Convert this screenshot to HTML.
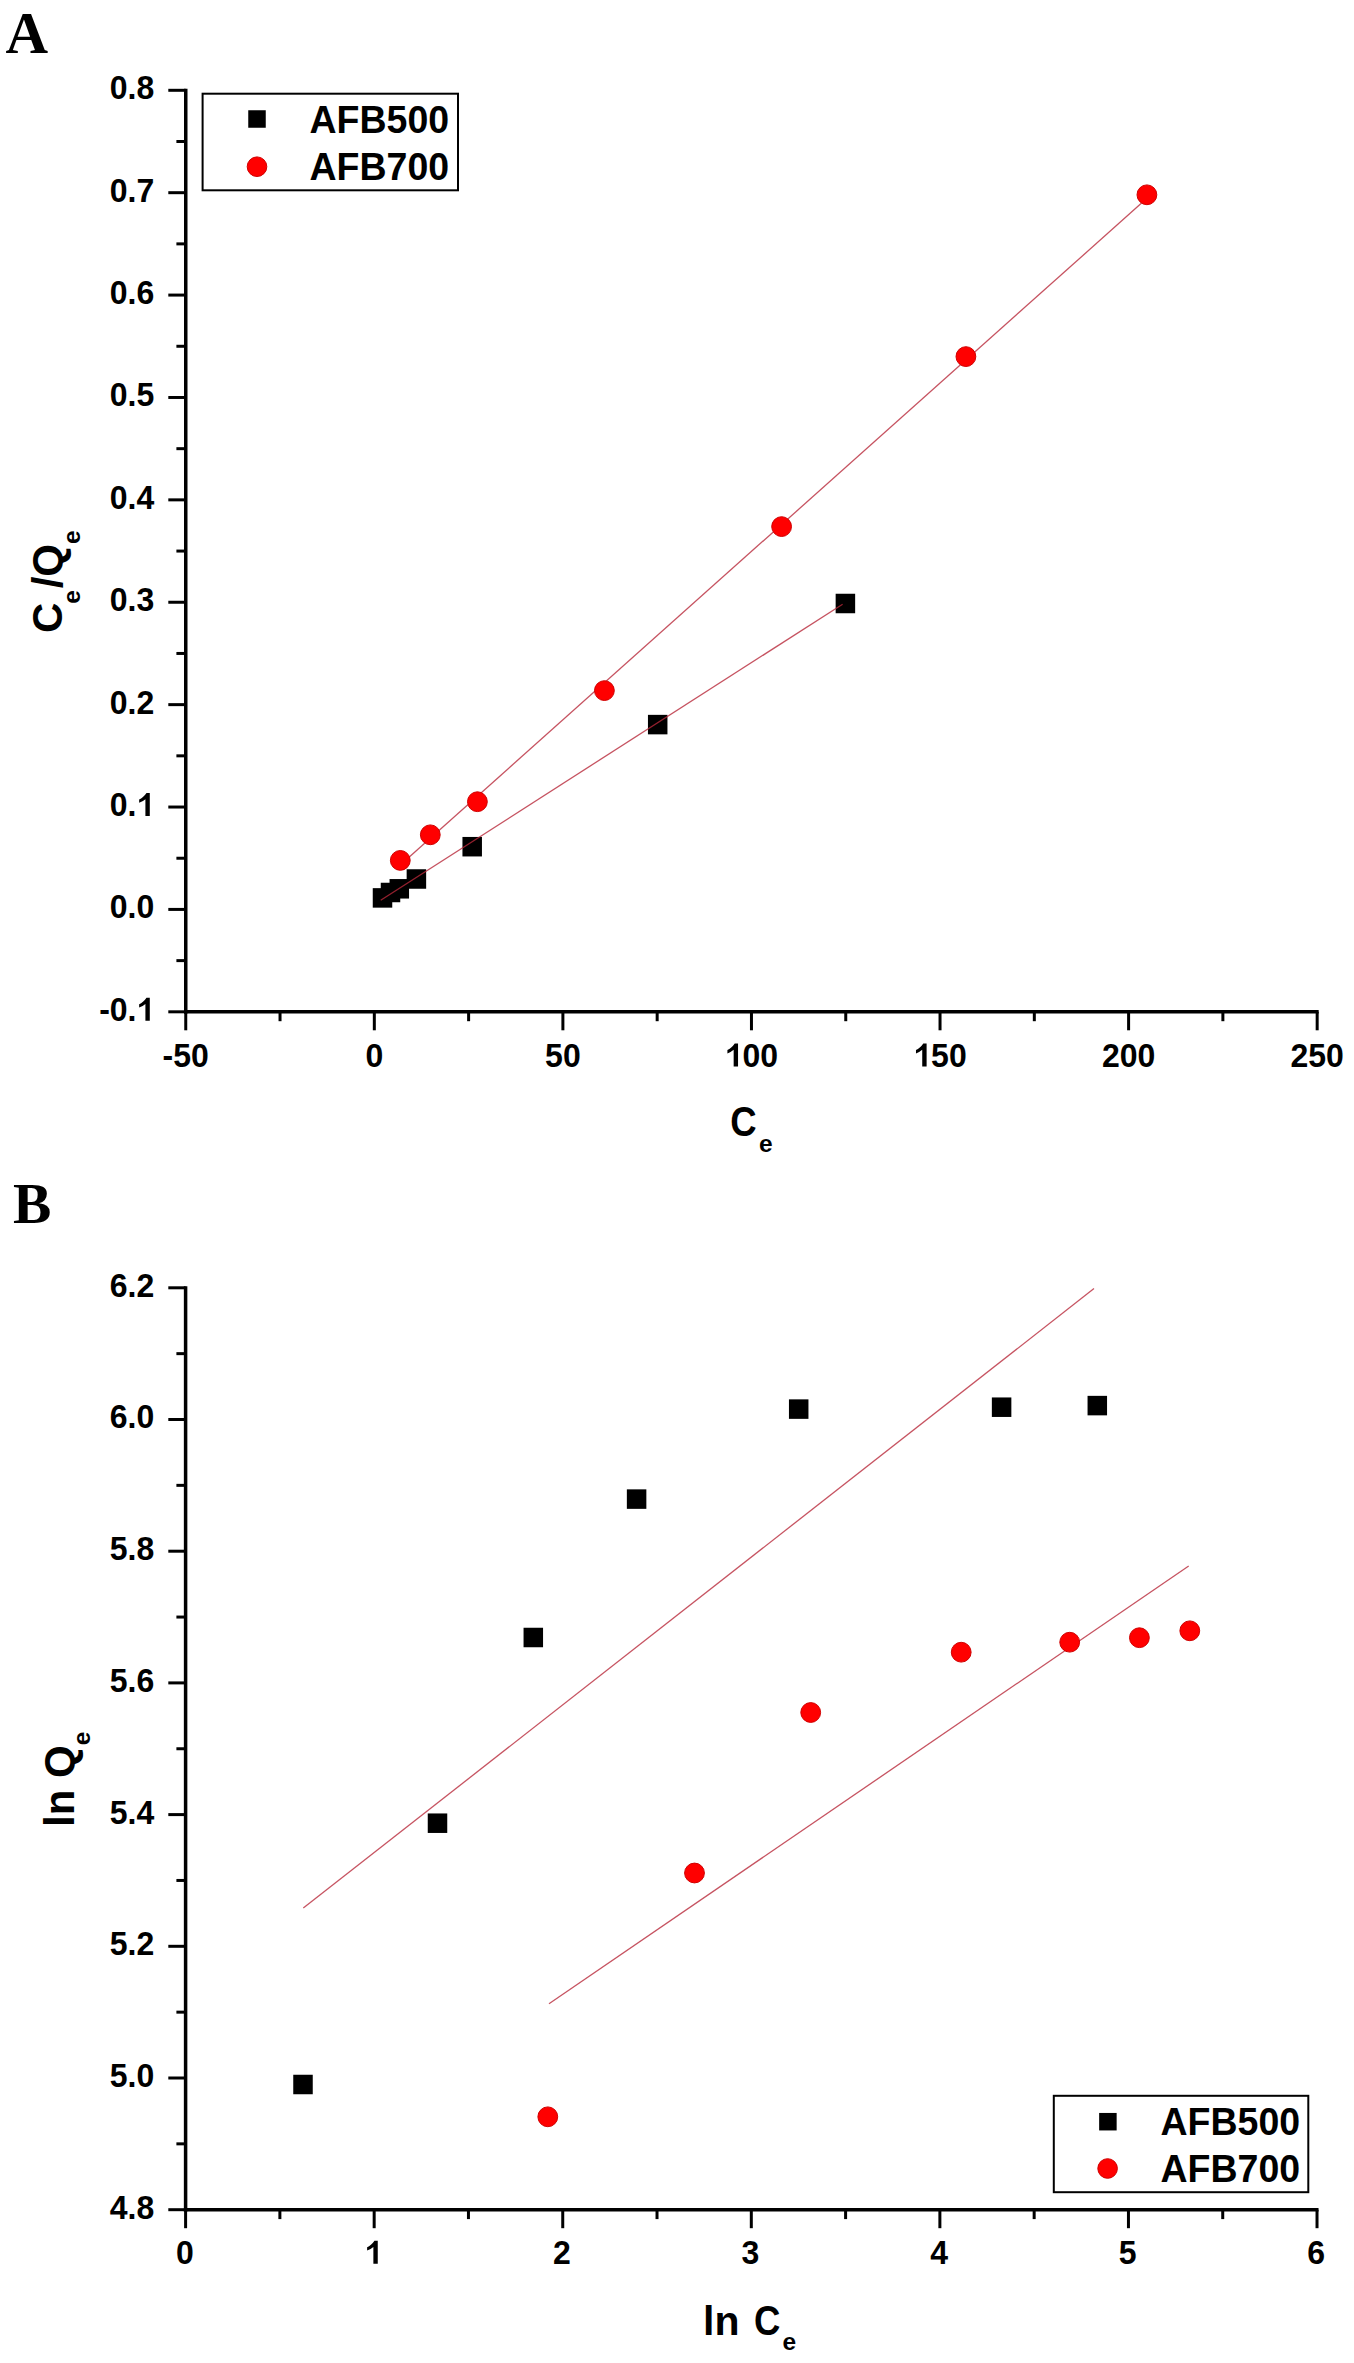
<!DOCTYPE html>
<html><head><meta charset="utf-8"><style>html,body{margin:0;padding:0;background:#fff}svg{display:block}</style></head><body>
<svg width="1354" height="2363" viewBox="0 0 1354 2363">
<style>.tk{font:bold 32px "Liberation Sans",sans-serif}.lg{font:bold 37.5px "Liberation Sans",sans-serif}.ti{font:bold 41px "Liberation Sans",sans-serif}.sb{font-size:24.5px}.tiy{font:bold 42px "Liberation Sans",sans-serif}.sbx{font:bold 24.5px "Liberation Sans",sans-serif}.pl{font:bold 59px "Liberation Serif",serif}</style>
<rect width="1354" height="2363" fill="#fff"/>
<line x1="185.75" y1="88.80" x2="185.75" y2="1013.55" stroke="#000" stroke-width="3.5"/>
<line x1="184.00" y1="1011.80" x2="1318.67" y2="1011.80" stroke="#000" stroke-width="3.5"/>
<line x1="168.30" y1="90.30" x2="185.75" y2="90.30" stroke="#000" stroke-width="3"/>
<line x1="176.40" y1="141.50" x2="185.75" y2="141.50" stroke="#000" stroke-width="3"/>
<g transform="translate(0,99.30) scale(1,1.03) translate(0,-99.30)"><text x="154.30" y="99.30" class="tk" text-anchor="end">0.8</text></g>
<line x1="168.30" y1="192.69" x2="185.75" y2="192.69" stroke="#000" stroke-width="3"/>
<line x1="176.40" y1="243.88" x2="185.75" y2="243.88" stroke="#000" stroke-width="3"/>
<g transform="translate(0,201.69) scale(1,1.03) translate(0,-201.69)"><text x="154.30" y="201.69" class="tk" text-anchor="end">0.7</text></g>
<line x1="168.30" y1="295.08" x2="185.75" y2="295.08" stroke="#000" stroke-width="3"/>
<line x1="176.40" y1="346.27" x2="185.75" y2="346.27" stroke="#000" stroke-width="3"/>
<g transform="translate(0,304.08) scale(1,1.03) translate(0,-304.08)"><text x="154.30" y="304.08" class="tk" text-anchor="end">0.6</text></g>
<line x1="168.30" y1="397.47" x2="185.75" y2="397.47" stroke="#000" stroke-width="3"/>
<line x1="176.40" y1="448.67" x2="185.75" y2="448.67" stroke="#000" stroke-width="3"/>
<g transform="translate(0,406.47) scale(1,1.03) translate(0,-406.47)"><text x="154.30" y="406.47" class="tk" text-anchor="end">0.5</text></g>
<line x1="168.30" y1="499.86" x2="185.75" y2="499.86" stroke="#000" stroke-width="3"/>
<line x1="176.40" y1="551.06" x2="185.75" y2="551.06" stroke="#000" stroke-width="3"/>
<g transform="translate(0,508.86) scale(1,1.03) translate(0,-508.86)"><text x="154.30" y="508.86" class="tk" text-anchor="end">0.4</text></g>
<line x1="168.30" y1="602.25" x2="185.75" y2="602.25" stroke="#000" stroke-width="3"/>
<line x1="176.40" y1="653.45" x2="185.75" y2="653.45" stroke="#000" stroke-width="3"/>
<g transform="translate(0,611.25) scale(1,1.03) translate(0,-611.25)"><text x="154.30" y="611.25" class="tk" text-anchor="end">0.3</text></g>
<line x1="168.30" y1="704.64" x2="185.75" y2="704.64" stroke="#000" stroke-width="3"/>
<line x1="176.40" y1="755.84" x2="185.75" y2="755.84" stroke="#000" stroke-width="3"/>
<g transform="translate(0,713.64) scale(1,1.03) translate(0,-713.64)"><text x="154.30" y="713.64" class="tk" text-anchor="end">0.2</text></g>
<line x1="168.30" y1="807.03" x2="185.75" y2="807.03" stroke="#000" stroke-width="3"/>
<line x1="176.40" y1="858.23" x2="185.75" y2="858.23" stroke="#000" stroke-width="3"/>
<g transform="translate(0,816.03) scale(1,1.03) translate(0,-816.03)"><text x="109.82" y="816.03" class="tk">0.</text><path transform="translate(136.50,816.03) scale(0.015625,-0.015625)" d="M850 0H570V1040Q400 890 170 820V1030Q420 1120 640 1430H850Z"/></g>
<line x1="168.30" y1="909.42" x2="185.75" y2="909.42" stroke="#000" stroke-width="3"/>
<line x1="176.40" y1="960.62" x2="185.75" y2="960.62" stroke="#000" stroke-width="3"/>
<g transform="translate(0,918.42) scale(1,1.03) translate(0,-918.42)"><text x="154.30" y="918.42" class="tk" text-anchor="end">0.0</text></g>
<line x1="168.30" y1="1011.81" x2="185.75" y2="1011.81" stroke="#000" stroke-width="3"/>
<g transform="translate(0,1020.81) scale(1,1.03) translate(0,-1020.81)"><text x="99.16" y="1020.81" class="tk">-0.</text><path transform="translate(136.50,1020.81) scale(0.015625,-0.015625)" d="M850 0H570V1040Q400 890 170 820V1030Q420 1120 640 1430H850Z"/></g>
<line x1="185.75" y1="1011.80" x2="185.75" y2="1030.30" stroke="#000" stroke-width="3"/>
<line x1="280.03" y1="1011.80" x2="280.03" y2="1021.20" stroke="#000" stroke-width="3"/>
<g transform="translate(0,1066.60) scale(1,1.03) translate(0,-1066.60)"><text x="185.75" y="1066.60" class="tk" text-anchor="middle">-50</text></g>
<line x1="374.32" y1="1011.80" x2="374.32" y2="1030.30" stroke="#000" stroke-width="3"/>
<line x1="468.61" y1="1011.80" x2="468.61" y2="1021.20" stroke="#000" stroke-width="3"/>
<g transform="translate(0,1066.60) scale(1,1.03) translate(0,-1066.60)"><text x="374.32" y="1066.60" class="tk" text-anchor="middle">0</text></g>
<line x1="562.89" y1="1011.80" x2="562.89" y2="1030.30" stroke="#000" stroke-width="3"/>
<line x1="657.17" y1="1011.80" x2="657.17" y2="1021.20" stroke="#000" stroke-width="3"/>
<g transform="translate(0,1066.60) scale(1,1.03) translate(0,-1066.60)"><text x="562.89" y="1066.60" class="tk" text-anchor="middle">50</text></g>
<line x1="751.46" y1="1011.80" x2="751.46" y2="1030.30" stroke="#000" stroke-width="3"/>
<line x1="845.75" y1="1011.80" x2="845.75" y2="1021.20" stroke="#000" stroke-width="3"/>
<g transform="translate(0,1066.60) scale(1,1.03) translate(0,-1066.60)"><path transform="translate(724.76,1066.60) scale(0.015625,-0.015625)" d="M850 0H570V1040Q400 890 170 820V1030Q420 1120 640 1430H850Z"/><text x="742.56" y="1066.60" class="tk">00</text></g>
<line x1="940.03" y1="1011.80" x2="940.03" y2="1030.30" stroke="#000" stroke-width="3"/>
<line x1="1034.32" y1="1011.80" x2="1034.32" y2="1021.20" stroke="#000" stroke-width="3"/>
<g transform="translate(0,1066.60) scale(1,1.03) translate(0,-1066.60)"><path transform="translate(913.33,1066.60) scale(0.015625,-0.015625)" d="M850 0H570V1040Q400 890 170 820V1030Q420 1120 640 1430H850Z"/><text x="931.13" y="1066.60" class="tk">50</text></g>
<line x1="1128.60" y1="1011.80" x2="1128.60" y2="1030.30" stroke="#000" stroke-width="3"/>
<line x1="1222.88" y1="1011.80" x2="1222.88" y2="1021.20" stroke="#000" stroke-width="3"/>
<g transform="translate(0,1066.60) scale(1,1.03) translate(0,-1066.60)"><text x="1128.60" y="1066.60" class="tk" text-anchor="middle">200</text></g>
<line x1="1317.17" y1="1011.80" x2="1317.17" y2="1030.30" stroke="#000" stroke-width="3"/>
<g transform="translate(0,1066.60) scale(1,1.03) translate(0,-1066.60)"><text x="1317.17" y="1066.60" class="tk" text-anchor="middle">250</text></g>
<rect x="372.75" y="888.15" width="19.5" height="19.5" fill="#000"/>
<rect x="380.75" y="882.75" width="19.5" height="19.5" fill="#000"/>
<rect x="389.55" y="879.05" width="19.5" height="19.5" fill="#000"/>
<rect x="406.65" y="869.25" width="19.5" height="19.5" fill="#000"/>
<rect x="462.45" y="836.95" width="19.5" height="19.5" fill="#000"/>
<rect x="647.95" y="714.85" width="19.5" height="19.5" fill="#000"/>
<rect x="835.65" y="593.75" width="19.5" height="19.5" fill="#000"/>
<line x1="380.70" y1="900.30" x2="842.60" y2="604.20" stroke="#b8283a" stroke-width="1.3" stroke-opacity="0.8"/>
<line x1="400.30" y1="864.99" x2="1146.90" y2="198.35" stroke="#b8283a" stroke-width="1.3" stroke-opacity="0.8"/>
<circle cx="400.3" cy="860.4" r="9.9" fill="#ff0000" stroke="#d00000" stroke-width="1"/>
<circle cx="430.3" cy="834.8" r="9.9" fill="#ff0000" stroke="#d00000" stroke-width="1"/>
<circle cx="477.4" cy="801.7" r="9.9" fill="#ff0000" stroke="#d00000" stroke-width="1"/>
<circle cx="604.4" cy="690.6" r="9.9" fill="#ff0000" stroke="#d00000" stroke-width="1"/>
<circle cx="781.6" cy="526.6" r="9.9" fill="#ff0000" stroke="#d00000" stroke-width="1"/>
<circle cx="965.9" cy="356.6" r="9.9" fill="#ff0000" stroke="#d00000" stroke-width="1"/>
<circle cx="1146.9" cy="194.8" r="9.9" fill="#ff0000" stroke="#d00000" stroke-width="1"/>
<rect x="202.6" y="93.7" width="255.40" height="96.60" fill="none" stroke="#000" stroke-width="2"/>
<rect x="248.25" y="110.25" width="17.5" height="17.5" fill="#000"/>
<circle cx="257" cy="166.7" r="9.8" fill="#ff0000" stroke="#d00000" stroke-width="1"/>
<g transform="translate(0,133.2) scale(1,1.025) translate(0,-133.2)"><text x="309.50" y="133.20" class="lg">AFB500</text></g>
<g transform="translate(0,180.4) scale(1,1.025) translate(0,-180.4)"><text x="309.50" y="180.40" class="lg">AFB700</text></g>
<line x1="185.60" y1="1286.30" x2="185.60" y2="2211.45" stroke="#000" stroke-width="3.5"/>
<line x1="183.85" y1="2209.70" x2="1318.52" y2="2209.70" stroke="#000" stroke-width="3.5"/>
<line x1="168.30" y1="1287.80" x2="185.60" y2="1287.80" stroke="#000" stroke-width="3"/>
<line x1="176.40" y1="1353.65" x2="185.60" y2="1353.65" stroke="#000" stroke-width="3"/>
<g transform="translate(0,1296.80) scale(1,1.03) translate(0,-1296.80)"><text x="154.30" y="1296.80" class="tk" text-anchor="end">6.2</text></g>
<line x1="168.30" y1="1419.50" x2="185.60" y2="1419.50" stroke="#000" stroke-width="3"/>
<line x1="176.40" y1="1485.35" x2="185.60" y2="1485.35" stroke="#000" stroke-width="3"/>
<g transform="translate(0,1428.50) scale(1,1.03) translate(0,-1428.50)"><text x="154.30" y="1428.50" class="tk" text-anchor="end">6.0</text></g>
<line x1="168.30" y1="1551.20" x2="185.60" y2="1551.20" stroke="#000" stroke-width="3"/>
<line x1="176.40" y1="1617.05" x2="185.60" y2="1617.05" stroke="#000" stroke-width="3"/>
<g transform="translate(0,1560.20) scale(1,1.03) translate(0,-1560.20)"><text x="154.30" y="1560.20" class="tk" text-anchor="end">5.8</text></g>
<line x1="168.30" y1="1682.90" x2="185.60" y2="1682.90" stroke="#000" stroke-width="3"/>
<line x1="176.40" y1="1748.75" x2="185.60" y2="1748.75" stroke="#000" stroke-width="3"/>
<g transform="translate(0,1691.90) scale(1,1.03) translate(0,-1691.90)"><text x="154.30" y="1691.90" class="tk" text-anchor="end">5.6</text></g>
<line x1="168.30" y1="1814.60" x2="185.60" y2="1814.60" stroke="#000" stroke-width="3"/>
<line x1="176.40" y1="1880.45" x2="185.60" y2="1880.45" stroke="#000" stroke-width="3"/>
<g transform="translate(0,1823.60) scale(1,1.03) translate(0,-1823.60)"><text x="154.30" y="1823.60" class="tk" text-anchor="end">5.4</text></g>
<line x1="168.30" y1="1946.30" x2="185.60" y2="1946.30" stroke="#000" stroke-width="3"/>
<line x1="176.40" y1="2012.15" x2="185.60" y2="2012.15" stroke="#000" stroke-width="3"/>
<g transform="translate(0,1955.30) scale(1,1.03) translate(0,-1955.30)"><text x="154.30" y="1955.30" class="tk" text-anchor="end">5.2</text></g>
<line x1="168.30" y1="2078.00" x2="185.60" y2="2078.00" stroke="#000" stroke-width="3"/>
<line x1="176.40" y1="2143.85" x2="185.60" y2="2143.85" stroke="#000" stroke-width="3"/>
<g transform="translate(0,2087.00) scale(1,1.03) translate(0,-2087.00)"><text x="154.30" y="2087.00" class="tk" text-anchor="end">5.0</text></g>
<line x1="168.30" y1="2209.70" x2="185.60" y2="2209.70" stroke="#000" stroke-width="3"/>
<g transform="translate(0,2218.70) scale(1,1.03) translate(0,-2218.70)"><text x="154.30" y="2218.70" class="tk" text-anchor="end">4.8</text></g>
<line x1="185.60" y1="2209.70" x2="185.60" y2="2228.20" stroke="#000" stroke-width="3"/>
<line x1="279.88" y1="2209.70" x2="279.88" y2="2219.10" stroke="#000" stroke-width="3"/>
<g transform="translate(0,2263.80) scale(1,1.03) translate(0,-2263.80)"><text x="184.80" y="2263.80" class="tk" text-anchor="middle">0</text></g>
<line x1="374.17" y1="2209.70" x2="374.17" y2="2228.20" stroke="#000" stroke-width="3"/>
<line x1="468.45" y1="2209.70" x2="468.45" y2="2219.10" stroke="#000" stroke-width="3"/>
<g transform="translate(0,2263.80) scale(1,1.03) translate(0,-2263.80)"><path transform="translate(364.47,2263.80) scale(0.015625,-0.015625)" d="M850 0H570V1040Q400 890 170 820V1030Q420 1120 640 1430H850Z"/></g>
<line x1="562.74" y1="2209.70" x2="562.74" y2="2228.20" stroke="#000" stroke-width="3"/>
<line x1="657.02" y1="2209.70" x2="657.02" y2="2219.10" stroke="#000" stroke-width="3"/>
<g transform="translate(0,2263.80) scale(1,1.03) translate(0,-2263.80)"><text x="561.94" y="2263.80" class="tk" text-anchor="middle">2</text></g>
<line x1="751.31" y1="2209.70" x2="751.31" y2="2228.20" stroke="#000" stroke-width="3"/>
<line x1="845.60" y1="2209.70" x2="845.60" y2="2219.10" stroke="#000" stroke-width="3"/>
<g transform="translate(0,2263.80) scale(1,1.03) translate(0,-2263.80)"><text x="750.51" y="2263.80" class="tk" text-anchor="middle">3</text></g>
<line x1="939.88" y1="2209.70" x2="939.88" y2="2228.20" stroke="#000" stroke-width="3"/>
<line x1="1034.16" y1="2209.70" x2="1034.16" y2="2219.10" stroke="#000" stroke-width="3"/>
<g transform="translate(0,2263.80) scale(1,1.03) translate(0,-2263.80)"><text x="939.08" y="2263.80" class="tk" text-anchor="middle">4</text></g>
<line x1="1128.45" y1="2209.70" x2="1128.45" y2="2228.20" stroke="#000" stroke-width="3"/>
<line x1="1222.73" y1="2209.70" x2="1222.73" y2="2219.10" stroke="#000" stroke-width="3"/>
<g transform="translate(0,2263.80) scale(1,1.03) translate(0,-2263.80)"><text x="1127.65" y="2263.80" class="tk" text-anchor="middle">5</text></g>
<line x1="1317.02" y1="2209.70" x2="1317.02" y2="2228.20" stroke="#000" stroke-width="3"/>
<g transform="translate(0,2263.80) scale(1,1.03) translate(0,-2263.80)"><text x="1316.22" y="2263.80" class="tk" text-anchor="middle">6</text></g>
<rect x="293.25" y="2074.75" width="19.5" height="19.5" fill="#000"/>
<rect x="427.75" y="1813.45" width="19.5" height="19.5" fill="#000"/>
<rect x="523.55" y="1627.75" width="19.5" height="19.5" fill="#000"/>
<rect x="626.85" y="1489.35" width="19.5" height="19.5" fill="#000"/>
<rect x="788.95" y="1399.35" width="19.5" height="19.5" fill="#000"/>
<rect x="991.85" y="1397.45" width="19.5" height="19.5" fill="#000"/>
<rect x="1087.55" y="1395.85" width="19.5" height="19.5" fill="#000"/>
<line x1="303.30" y1="1908.10" x2="1094.00" y2="1288.60" stroke="#b8283a" stroke-width="1.3" stroke-opacity="0.8"/>
<line x1="549.00" y1="2003.80" x2="1188.70" y2="1566.00" stroke="#b8283a" stroke-width="1.3" stroke-opacity="0.8"/>
<circle cx="547.8" cy="2116.8" r="9.9" fill="#ff0000" stroke="#d00000" stroke-width="1"/>
<circle cx="694.5" cy="1873" r="9.9" fill="#ff0000" stroke="#d00000" stroke-width="1"/>
<circle cx="810.7" cy="1712.5" r="9.9" fill="#ff0000" stroke="#d00000" stroke-width="1"/>
<circle cx="961.2" cy="1652.2" r="9.9" fill="#ff0000" stroke="#d00000" stroke-width="1"/>
<circle cx="1069.7" cy="1642.2" r="9.9" fill="#ff0000" stroke="#d00000" stroke-width="1"/>
<circle cx="1139.4" cy="1637.7" r="9.9" fill="#ff0000" stroke="#d00000" stroke-width="1"/>
<circle cx="1189.8" cy="1630.8" r="9.9" fill="#ff0000" stroke="#d00000" stroke-width="1"/>
<rect x="1053.8" y="2095.8" width="254.50" height="96.40" fill="none" stroke="#000" stroke-width="2"/>
<rect x="1099.15" y="2112.95" width="17.5" height="17.5" fill="#000"/>
<circle cx="1107.6" cy="2168.5" r="9.8" fill="#ff0000" stroke="#d00000" stroke-width="1"/>
<g transform="translate(0,2135.3) scale(1,1.025) translate(0,-2135.3)"><text x="1160.50" y="2135.30" class="lg">AFB500</text></g>
<g transform="translate(0,2182.2) scale(1,1.025) translate(0,-2182.2)"><text x="1160.50" y="2182.20" class="lg">AFB700</text></g>
<text x="5.5" y="52.6" class="pl">A</text>
<text x="13" y="1223" class="pl" style="font-size:57.5px">B</text>
<text transform="translate(730.3,1136.4) scale(0.89,1.04)" class="ti">C</text>
<text x="759" y="1151.9" class="sbx">e</text>
<text transform="translate(703,2335.2) scale(1,0.975)" class="ti">ln</text>
<text transform="translate(754,2335.4) scale(0.89,1.045)" class="ti">C</text>
<text x="782.6" y="2350" class="sbx">e</text>
<text transform="translate(62,633) rotate(-90)" class="tiy">C<tspan class="sb" dx="-1.2" dy="18">e</tspan><tspan dx="1.9" dy="-18">/Q</tspan><tspan class="sb" dy="18">e</tspan></text>
<text transform="translate(74,1827) rotate(-90)" class="tiy">ln Q<tspan class="sb" dy="16">e</tspan></text>
</svg>
</body></html>
